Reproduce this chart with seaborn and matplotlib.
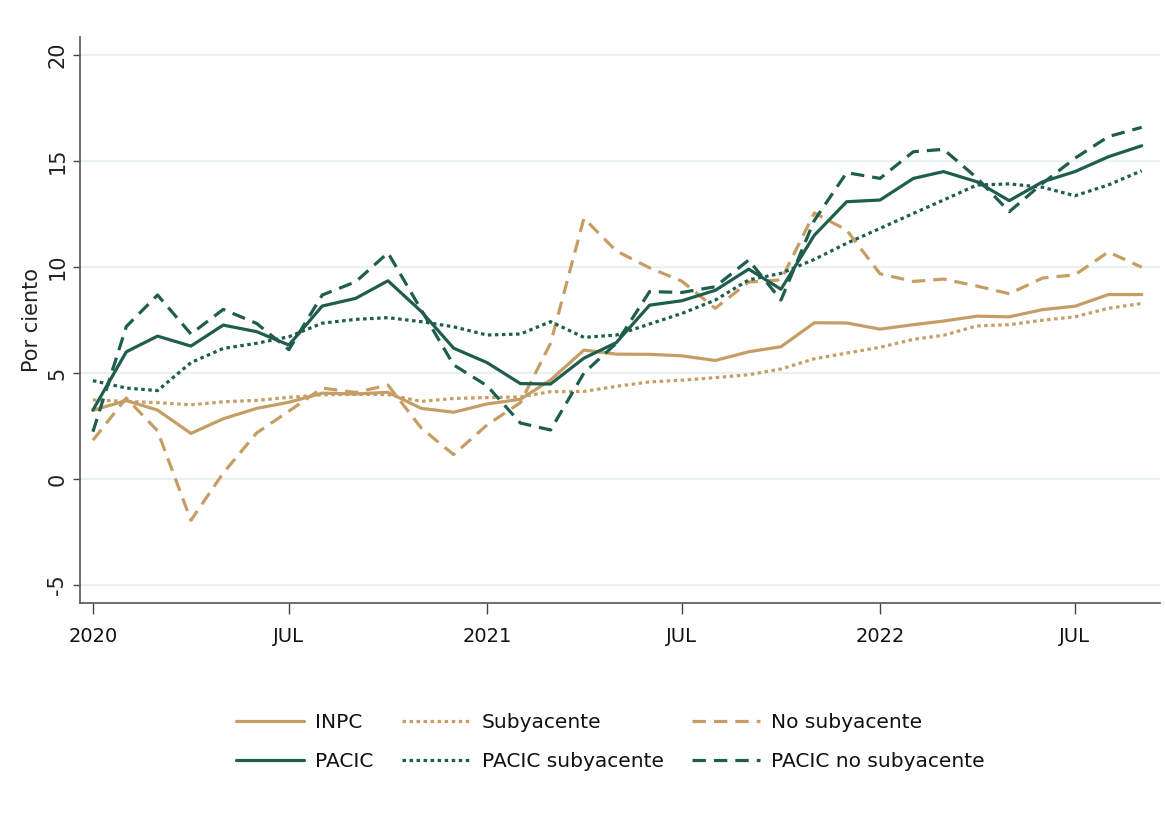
import matplotlib
matplotlib.use("Agg")
import matplotlib.pyplot as plt
from matplotlib import font_manager
import seaborn as sns
import pandas as pd
import numpy as np

# ---- data ----
dates = pd.date_range("2020-01-01", "2022-09-01", freq="MS")
inpc = [3.24, 3.70, 3.25, 2.15, 2.84, 3.33, 3.62, 4.05, 4.01, 4.09, 3.33, 3.15,
        3.54, 3.76, 4.67, 6.08, 5.89, 5.88, 5.81, 5.59, 6.00, 6.24, 7.37, 7.36,
        7.07, 7.28, 7.45, 7.68, 7.65, 7.99, 8.15, 8.70, 8.70]
subyacente = [3.73, 3.66, 3.60, 3.50, 3.64, 3.71, 3.85, 3.97, 3.99, 3.98, 3.66, 3.80,
              3.84, 3.87, 4.12, 4.13, 4.37, 4.58, 4.66, 4.78, 4.92, 5.19, 5.67, 5.94,
              6.21, 6.59, 6.78, 7.22, 7.28, 7.49, 7.65, 8.05, 8.28]
no_subyacente = [1.83, 3.82, 2.27, -1.95, 0.28, 2.17, 3.20, 4.29, 4.08, 4.43, 2.40, 1.15,
                 2.55, 3.60, 6.40, 12.30, 10.76, 9.96, 9.33, 8.05, 9.29, 9.39, 12.55, 11.74,
                 9.68, 9.32, 9.43, 9.10, 8.74, 9.48, 9.63, 10.71, 9.99]
pacic = [3.25, 6.00, 6.74, 6.27, 7.26, 6.95, 6.32, 8.16, 8.52, 9.35, 7.90, 6.17,
         5.49, 4.50, 4.48, 5.70, 6.43, 8.20, 8.41, 8.90, 9.90, 8.95, 11.50, 13.08,
         13.16, 14.18, 14.50, 14.02, 13.13, 14.02, 14.50, 15.20, 15.72]
pacic_sub = [4.64, 4.29, 4.17, 5.49, 6.16, 6.40, 6.71, 7.35, 7.53, 7.61, 7.42, 7.18,
             6.79, 6.84, 7.42, 6.68, 6.79, 7.31, 7.81, 8.44, 9.39, 9.70, 10.36, 11.12,
             11.82, 12.53, 13.16, 13.87, 13.92, 13.76, 13.36, 13.87, 14.54]
pacic_nosub = [2.23, 7.19, 8.68, 6.84, 8.00, 7.34, 6.10, 8.68, 9.30, 10.67, 7.97, 5.38,
               4.40, 2.64, 2.31, 5.00, 6.40, 8.84, 8.80, 9.07, 10.33, 8.44, 12.20, 14.45,
               14.18, 15.44, 15.55, 14.20, 12.61, 13.95, 15.13, 16.15, 16.59]

series_names = ["INPC", "Subyacente", "No subyacente",
                "PACIC", "PACIC subyacente", "PACIC no subyacente"]
series_values = [inpc, subyacente, no_subyacente, pacic, pacic_sub, pacic_nosub]

tick_dates = pd.to_datetime(["2020-01-01", "2020-07-01", "2021-01-01",
                             "2021-07-01", "2022-01-01", "2022-07-01"])
tick_labels = ["2020", "JUL", "2021", "JUL", "2022", "JUL"]
y_ticks = [-5, 0, 5, 10, 15, 20]

# ---- style ----
sns.set_theme(style="white")
plt.rcParams["font.family"] = ["DejaVu Sans"]

tan = "#C69E65"
green = "#1F5E4C"
styles = {
    "INPC": dict(color=tan, ls="-"),
    "Subyacente": dict(color=tan, ls=(0, (1.1, 1.1))),
    "No subyacente": dict(color=tan, ls=(0, (4.2, 2.5))),
    "PACIC": dict(color=green, ls="-"),
    "PACIC subyacente": dict(color=green, ls=(0, (1.1, 1.1))),
    "PACIC no subyacente": dict(color=green, ls=(0, (4.2, 2.5))),
}

fig = plt.figure(figsize=(11.65, 8.22), dpi=100, facecolor="white")
ax = fig.add_axes([80 / 1165, 1 - 603 / 822, (1160 - 80) / 1165, (603 - 37) / 822])

handles = {}
for name, vals in zip(series_names, series_values):
    st = styles[name]
    df = pd.DataFrame({"fecha": dates, "valor": vals})
    sns.lineplot(data=df, x="fecha", y="valor", ax=ax, color=st["color"],
                 linewidth=2.3, label=name)
    line = ax.get_lines()[-1]
    line.set_linestyle(st["ls"])
    line.set_dash_capstyle("butt")
    handles[name] = line

ax.set_xlim(pd.Timestamp("2019-12-20"), pd.Timestamp("2022-09-18"))
ax.set_ylim(-5.85, 20.85)

ax.set_yticks(y_ticks)
ax.set_yticklabels([str(v) for v in y_ticks], rotation=90, va="center",
                   fontsize=15, color="#222222")
ax.set_xticks(tick_dates)
ax.set_xticklabels(tick_labels, fontsize=14, color="#111111")

ax.tick_params(axis="x", direction="out", length=8, width=1.0, color="#444444", pad=9,
               bottom=True)
ax.tick_params(axis="y", direction="out", length=5, width=1.0, color="#444444", pad=4,
               left=True)

ax.grid(axis="y", color="#EAF1F3", linewidth=1.6)
ax.grid(axis="x", visible=False)
ax.set_axisbelow(True)

for s in ["top", "right"]:
    ax.spines[s].set_visible(False)
for s in ["left", "bottom"]:
    ax.spines[s].set_color("#555555")
    ax.spines[s].set_linewidth(1.2)

ax.set_xlabel("")
ax.set_ylabel("Por ciento", fontsize=15, color="#222222", labelpad=4)

if ax.get_legend() is not None:
    ax.get_legend().remove()

order = ["INPC", "PACIC", "Subyacente", "PACIC subyacente",
         "No subyacente", "PACIC no subyacente"]
leg = fig.legend([handles[n] for n in order], order, loc="center",
                 bbox_to_anchor=(0.524, 1 - 742 / 822), ncol=3, frameon=False,
                 prop=font_manager.FontProperties(family="DejaVu Sans", size=14.5),
                 handlelength=3.4, handletextpad=0.55, columnspacing=1.4,
                 labelspacing=0.95)
for t in leg.get_texts():
    t.set_color("#111111")

fig.savefig("out.png", dpi=100, facecolor="white")
